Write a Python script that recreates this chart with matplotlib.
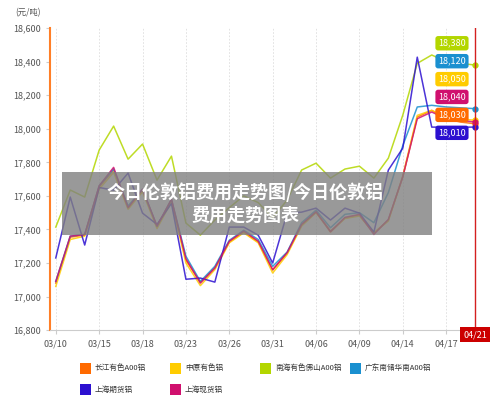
import matplotlib
matplotlib.use("Agg")
import matplotlib.pyplot as plt
from matplotlib.patches import Rectangle
from matplotlib.lines import Line2D

plt.rcParams['font.family'] = ['Noto Sans CJK SC', 'DejaVu Sans']

dates = ["03/10","03/11","03/12","03/15","03/16","03/17","03/18","03/19","03/20","03/23",
         "03/24","03/25","03/26","03/27","03/28","03/31","04/01","04/02","04/06","04/07",
         "04/08","04/09","04/10","04/11","04/14","04/15","04/16","04/17","04/18","04/21"]
tick_idx = [0,3,6,9,12,15,18,21,24,27]

names = ["长江有色A00铝","中原有色铝","南海有色佛山A00铝","广东南储华南A00铝","上海期货铝","上海现货铝"]
colors = ["#ff6a00","#ffcc00","#b3d600","#1a90d0","#2c10d0","#d0106e"]

changjiang = [17080,17354,17366,17652,17754,17527,17635,17414,17575,17217,17085,17170,17325,17384,17325,
              17158,17259,17426,17503,17384,17468,17486,17378,17456,17712,18070,18110,18060,18040,18030]
zhongyuan = [17060,17340,17360,17640,17740,17520,17625,17405,17565,17200,17065,17160,17320,17380,17320,
             17140,17250,17420,17500,17390,17465,17480,17380,17450,17720,18080,18110,18070,18060,18050]
nanhai = [17414,17635,17593,17873,18016,17819,17909,17694,17837,17438,17366,17456,17530,17600,17560,
          17470,17575,17754,17795,17706,17760,17777,17706,17825,18082,18390,18440,18400,18390,18380]
guangdong = [17090,17360,17370,17660,17760,17540,17640,17420,17580,17240,17090,17180,17335,17395,17340,
             17180,17265,17440,17515,17410,17490,17500,17440,17620,17900,18130,18140,18130,18125,18120]
shqh = [17230,17593,17307,17650,17634,17736,17497,17430,17555,17103,17110,17086,17414,17414,17366,
        17200,17497,17503,17527,17456,17527,17497,17384,17754,17885,18427,18010,18010,18010,18010]
shxh = [17090,17360,17370,17660,17770,17530,17640,17420,17580,17225,17080,17170,17330,17390,17330,
        17160,17262,17430,17505,17388,17472,17490,17370,17460,17715,18060,18100,18060,18050,18040]
series = [changjiang, zhongyuan, nanhai, guangdong, shqh, shxh]
label_order = [2, 3, 1, 5, 0, 4]

fig = plt.figure(figsize=(5, 4.08), dpi=100)
ax = fig.add_axes([0.1, 0.191, 0.856, 0.74])
x = list(range(len(dates)))
for s, c in zip(series, colors):
    ax.plot(x, s, color=c, lw=1.1, alpha=0.85)
    ax.plot(x[-1], s[-1], 'o', color=c, ms=3.5)

ax.set_xlim(-0.4, 29.2)
ax.set_ylim(16800, 18600)
ax.set_yticks(range(16800, 18601, 200))
ax.set_yticklabels([f"{v:,}" for v in range(16800, 18601, 200)], fontsize=6.5, color="#555")
ax.set_xticks(tick_idx)
ax.set_xticklabels([dates[i] for i in tick_idx], fontsize=6.5, color="#555")
ax.tick_params(length=3, color="#ccc")
for i in tick_idx:
    ax.axvline(i, color="#ddd", ls=(0, (2, 2)), lw=0.6, zorder=0)
for sp in ["top", "right"]:
    ax.spines[sp].set_visible(False)
ax.spines["left"].set_color("#ff7f27")
ax.spines["left"].set_linewidth(1.5)
ax.spines["bottom"].set_color("#ccc")
ax.axvline(29, color="#d42020", lw=1)
ax.text(29, 16800, dates[-1], ha="center", va="top", fontsize=6.5, color="white",
        bbox=dict(boxstyle="square,pad=0.35", fc="#cc0000", ec="none"), transform=ax.transData)

pos = [18510, 18403, 18296, 18190, 18083, 17976]
for k, i in enumerate(label_order):
    ax.text(27.4, pos[k], f"{series[i][-1]:,}", ha="center", va="center", fontsize=6.5,
            color="white", bbox=dict(boxstyle="round,pad=0.3", fc=colors[i], ec="none"))

fig.text(0.03, 0.962, "(元/吨)", fontsize=6, color="#555")

fig.patches.append(Rectangle((0.124, 0.424), 0.74, 0.155, transform=fig.transFigure,
                             fc="#808080", alpha=0.8, ec="none"))
fig.text(0.49, 0.502, "今日伦敦铝费用走势图/今日伦敦铝\n费用走势图表", ha="center", va="center",
         fontsize=13, color="white", fontweight="bold", linespacing=1.25)

# legend drawn row by row
lx = [0.16, 0.34, 0.52, 0.70]
rows_y = [0.098, 0.045]
for k, (n, c) in enumerate(zip(names, colors)):
    r, col = divmod(k, 4)
    fig.patches.append(Rectangle((lx[col], rows_y[r] - 0.014), 0.022, 0.027,
                                 transform=fig.transFigure, fc=c, ec="none"))
    fig.text(lx[col] + 0.03, rows_y[r], n, fontsize=5.5, color="#333", va="center")
fig.savefig("out.png", dpi=100)
